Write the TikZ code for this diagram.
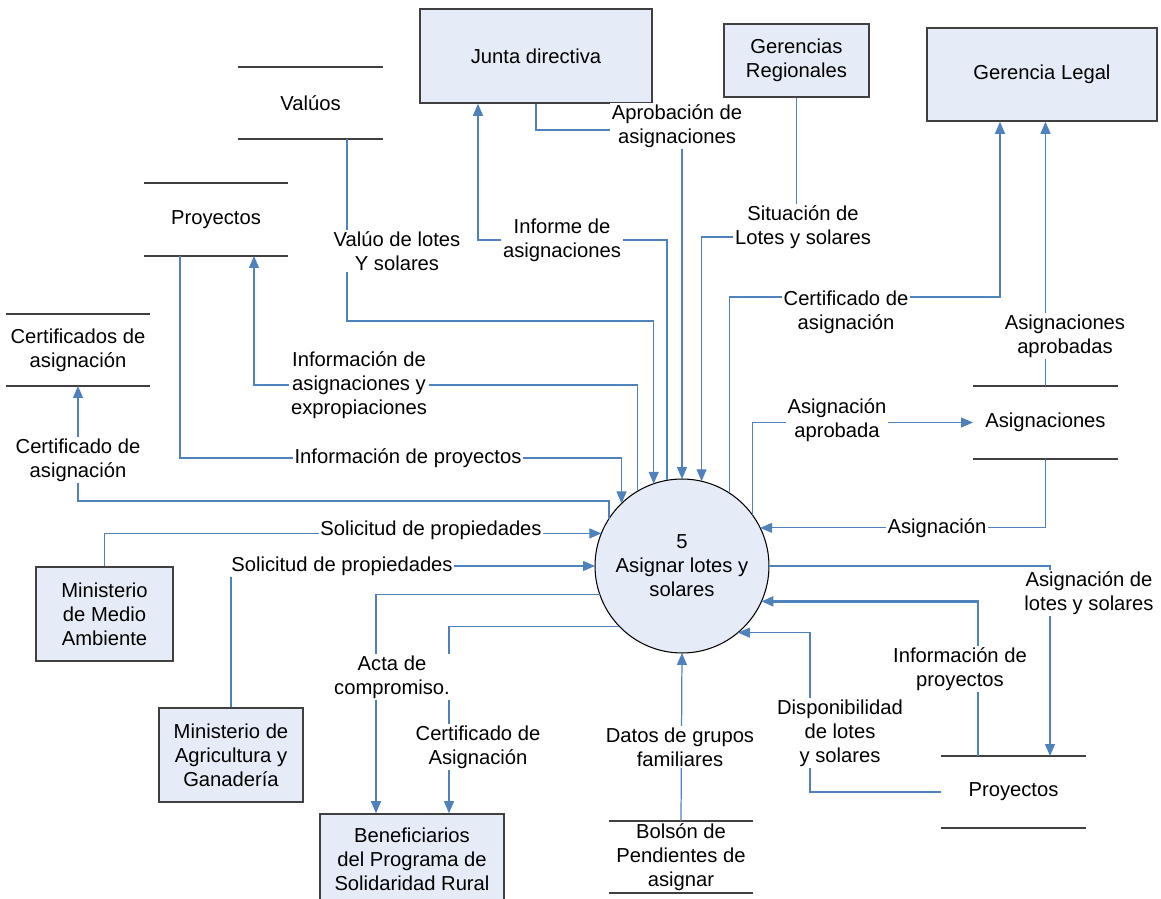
\documentclass[tikz,border=0pt]{standalone}
\usepackage{fontspec}
\setmainfont{Liberation Sans}
\usetikzlibrary{arrows.meta}
\definecolor{flowblue}{RGB}{79,129,189}
\definecolor{boxfill}{RGB}{230,236,247}
\definecolor{boxline}{RGB}{64,64,64}
\newcommand\storelines[1]{\draw[boxline, line width=0.9pt] (#1.north west) -- (#1.north east) (#1.south west) -- (#1.south east);}
\begin{document}
\begin{tikzpicture}[
    x=0.02cm, y=-0.02cm,
    every node/.style={font=\fontsize{11.5}{13.6}\selectfont, align=center},
    ent/.style={draw=boxline, fill=boxfill, line width=0.9pt, inner sep=0pt},
    store/.style={minimum width=2.9cm, minimum height=1.44cm, inner sep=0pt, outer sep=0pt},
    proc/.style={circle, draw=black, fill=boxfill, line width=0.6pt, minimum size=3.48cm, inner sep=0pt, outer sep=0pt},
    flow/.style={draw=flowblue, line width=0.7pt, -{Triangle[length=0.24cm,width=0.2cm]}},
    lbl/.style={fill=white, inner sep=1pt}
  ]
  \useasboundingbox (0,0) rectangle (1161,899);

  \node[ent, minimum width=4.64cm, minimum height=1.88cm] (jd) at (536,56) {Junta directiva};
  \node[ent, minimum width=2.9cm, minimum height=1.46cm] (gr) at (796.5,60.5) {Gerencias\\Regionales};
  \node[ent, minimum width=4.6cm, minimum height=1.86cm] (gl) at (1042,74.5) {Gerencia Legal};
  \node[ent, minimum width=2.74cm, minimum height=1.88cm] (mma) at (104.5,614) {Ministerio\\de Medio\\Ambiente};
  \node[ent, minimum width=2.88cm, minimum height=1.88cm] (mag) at (231,755) {Ministerio de\\Agricultura y\\Ganadería};
  \node[ent, minimum width=3.68cm, minimum height=1.8cm] (ben) at (412,859) {Beneficiarios\\del Programa de\\Solidaridad Rural};

  \node[store] (val) at (310.5,103) {Valúos};
  \node[store, minimum height=1.46cm] (pry1) at (216,219.5) {Proyectos};
  \node[store] (cert) at (78,350) {Certificados de\\asignación};
  \node[store, minimum height=1.46cm] (asig) at (1045.5,422.5) {Asignaciones};
  \node[store] (pry2) at (1013.5,792) {Proyectos};
  \node[store] (bol) at (681,857) {Bolsón de\\Pendientes de\\asignar};
  \storelines{val} \storelines{pry1} \storelines{cert}
  \storelines{asig} \storelines{pry2} \storelines{bol}

  \node[proc] (p5) at (682,566) {5\\Asignar lotes y\\solares};

  \draw[flow] (jd.south) |- (p5.north |- 0,130) -- (p5.north);
  \draw[flow] (p5.100) -- (p5.100 |- 0,240) -| (jd.south -| 478,0);
  \draw[flow] (val.south -| 347,0) |- (p5.109 |- 0,321) -- (p5.109);
  \draw[flow] (p5.121) -- (p5.121 |- 0,385) -| (pry1.south -| 254,0);
  \draw[flow] (pry1.south -| 180,0) |- (p5.134 |- 0,458) -- (p5.134);
  \draw[flow] (p5.147) -- (p5.147 |- 0,501) -| (cert.south);
  \draw[flow] (mma.north) |- (p5.158);
  \draw[flow] (mag.north) |- (p5.west);
  \draw[flow] (p5.199) -| (ben.north -| 376,0);
  \draw[flow] (p5.224) -| (ben.north -| 449,0);
  \draw[flow] (bol.north) -- (p5.south);
  \draw[flow] (pry2.west) -| (p5.310 -| 810,0) -- (p5.310);
  \draw[flow, line width=1.3pt] (pry2.north -| 978,0) |- (p5.336);
  \draw[flow] (p5.east) -| (pry2.north -| 1050,0);
  \draw[flow] (asig.south) |- (p5.26);
  \draw[flow] (p5.36) |- (asig.west);
  \draw[flow] (asig.north) -- (gl.south -| asig.north);
  \draw[flow] (p5.57) -- (p5.57 |- 0,297) -| (gl.south -| 1000,0);
  \draw[flow] (gr.south) |- (p5.77 |- 0,237) -- (p5.77);

  \node[lbl] (laprob) at (677,126) {Aprobación de\\asignaciones};
  \node[lbl] (linforme) at (562,240) {Informe de\\asignaciones};
  \node[lbl] (lvaluo) at (397,251) {Valúo de lotes\\Y solares};
  \node[lbl] (linfasig) at (359,385) {Información de\\asignaciones y\\expropiaciones};
  \node[lbl] (linfproyl) at (408,458) {Información de proyectos};
  \node[lbl] (lcertl) at (78,460) {Certificado de\\asignación};
  \node[lbl] (lsolmma) at (431,530) {Solicitud de propiedades};
  \node[lbl] (lsolmag) at (342,566) {Solicitud de propiedades};
  \node[lbl] (lacta) at (392,677) {Acta de\\compromiso.};
  \node[lbl] (lcertben) at (478,747) {Certificado de\\Asignación};
  \node[lbl] (ldatos) at (680,747) {Datos de grupos\\familiares};
  \node[lbl] (ldisp) at (840,733) {Disponibilidad\\de lotes\\y solares};
  \node[lbl] (linfproyr) at (960,669) {Información de\\proyectos};
  \node[lbl] (lasiglotes) at (1089,593) {Asignación de\\lotes y solares};
  \node[lbl] (lasig) at (937,528) {Asignación};
  \node[lbl] (lasigapr) at (837,420) {Asignación\\aprobada};
  \node[lbl] (lasigaprs) at (1065,336) {Asignaciones\\aprobadas};
  \node[lbl] (lcertr) at (846,312) {Certificado de\\asignación};
  \node[lbl] (lsit) at (803,227) {Situación de\\Lotes y solares};
\end{tikzpicture}
\end{document}
